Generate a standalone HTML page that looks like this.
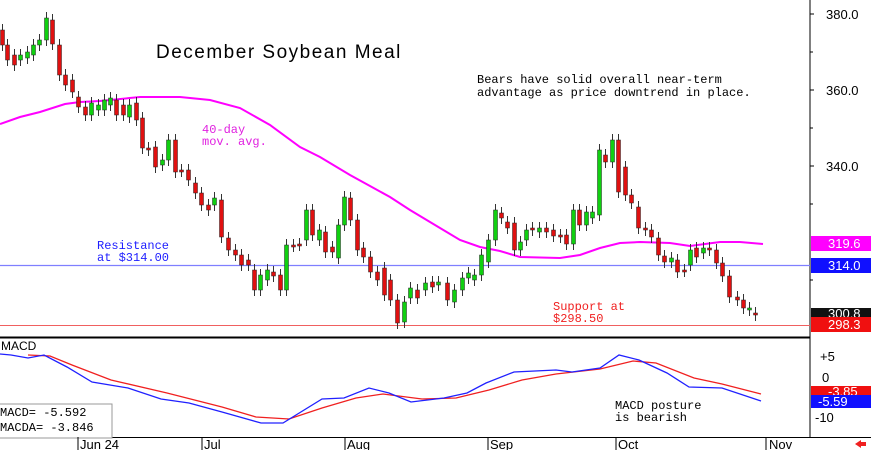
<!DOCTYPE html>
<html><head><meta charset="utf-8"><style>
html,body{margin:0;padding:0;background:#fff;}
svg{display:block;font-family:"Liberation Mono",monospace;}
</style></head><body>
<svg id="s" width="871" height="450" viewBox="0 0 871 450" xmlns="http://www.w3.org/2000/svg">
<rect width="871" height="450" fill="#fff"/>
<!-- panels -->
<line x1="810" y1="0" x2="810" y2="437" stroke="#000" stroke-width="1"/>
<line x1="0" y1="337.5" x2="810" y2="337.5" stroke="#000" stroke-width="2"/>
<line x1="0" y1="437.5" x2="871" y2="437.5" stroke="#000" stroke-width="1"/>
<!-- support/resistance -->
<line x1="0" y1="265.5" x2="810" y2="265.5" stroke="#7f7fff" stroke-width="1.3"/>
<line x1="0" y1="325.5" x2="810" y2="325.5" stroke="#f06060" stroke-width="1"/>
<!-- MA -->
<polyline fill="none" stroke="#f0f" stroke-width="2" points="0,124 20,117 40,112 65,104 80,102 100,101 140,97 180,97 210,100 240,108 270,125 300,147 320,157 350,175 370,186 390,197 410,210 440,228 460,240 480,247 500,251 520,257 560,258 580,255 600,248 620,243 640,242 670,243 690,246 720,242 740,242 763,244"/>
<g id="candles"></g>
<!-- texts -->
<text x="156" y="58" font-size="19" fill="#000" font-family="Liberation Sans, sans-serif" letter-spacing="1.5">December Soybean Meal</text>
<text x="477" y="83" font-size="12" fill="#000">Bears have solid overall near-term</text>
<text x="477" y="96" font-size="12" fill="#000">advantage as price downtrend in place.</text>
<text x="202" y="133" font-size="12" fill="#e020e0">40-day</text>
<text x="202" y="145" font-size="12" fill="#e020e0">mov. avg.</text>
<text x="97" y="249" font-size="12" fill="#2020ff">Resistance</text>
<text x="97" y="261" font-size="12" fill="#2020ff">at $314.00</text>
<text x="553" y="310" font-size="12" fill="#f02020">Support at</text>
<text x="553" y="322" font-size="12" fill="#f02020">$298.50</text>
<!-- price axis -->
<g font-size="13" fill="#000" font-family="Liberation Sans, sans-serif">
<text x="826" y="19">380.0</text>
<text x="826" y="95">360.0</text>
<text x="826" y="171">340.0</text>
</g>
<g stroke="#000">
<line x1="810" y1="14" x2="814" y2="14"/><line x1="810" y1="90" x2="814" y2="90"/><line x1="810" y1="166" x2="814" y2="166"/>
<line x1="810" y1="52" x2="813" y2="52"/><line x1="810" y1="128" x2="813" y2="128"/><line x1="810" y1="204" x2="813" y2="204"/><line x1="810" y1="280" x2="813" y2="280"/>
</g>
<rect x="811" y="236" width="60" height="15" fill="#f0f"/>
<text x="828" y="248" font-size="13" fill="#fff" font-family="Liberation Sans, sans-serif">319.6</text>
<rect x="811" y="258" width="60" height="15" fill="#1010ff"/>
<text x="828" y="270" font-size="13" fill="#fff" font-family="Liberation Sans, sans-serif">314.0</text>
<rect x="811" y="308" width="60" height="10" fill="#111"/>
<text x="828" y="318" font-size="13" fill="#fff" font-family="Liberation Sans, sans-serif">300.8</text>
<rect x="811" y="317" width="60" height="15" fill="#f01010"/>
<text x="828" y="329" font-size="13" fill="#fff" font-family="Liberation Sans, sans-serif">298.3</text>
<!-- MACD -->
<text x="1" y="350" font-size="12" fill="#000" font-family="Liberation Sans, sans-serif">MACD</text>
<polyline fill="none" stroke="#f02020" stroke-width="1.3" points="28,355 50,356 72,365 111,380 167,393 222,407 256,417 289,419 322,408 356,398 383,394 422,399 456,398 489,390 522,380 556,374 600,369 633,361 656,363 694,378 722,384 761,394"/>
<polyline fill="none" stroke="#2020ff" stroke-width="1.3" points="0,354 11,355 28,358 44,355 67,367 92,382 128,388 161,399 189,403 222,412 261,423 283,423 322,399 344,398 369,388 389,393 411,402 444,398 467,393 486,383 514,372 556,370 572,372 600,368 619,355 639,360 667,373 689,387 722,388 761,401"/>
<text x="615" y="409" font-size="12" fill="#000">MACD posture</text>
<text x="615" y="421" font-size="12" fill="#000">is bearish</text>
<rect x="-1" y="404" width="113" height="34" fill="#fff" stroke="#999"/>
<text x="0" y="416" font-size="12" fill="#000">MACD=  -5.592</text>
<text x="0" y="431" font-size="12" fill="#000">MACDA= -3.846</text>
<g font-size="13" fill="#000" font-family="Liberation Sans, sans-serif">
<text x="820" y="361">+5</text>
<text x="822" y="382">0</text>
<text x="815" y="422">-10</text>
</g>
<rect x="811" y="386" width="60" height="10" fill="#f01010"/>
<text x="828" y="396" font-size="13" fill="#fff" font-family="Liberation Sans, sans-serif">-3.85</text>
<rect x="811" y="395" width="60" height="13" fill="#1010ff"/>
<text x="818" y="406" font-size="13" fill="#fff" font-family="Liberation Sans, sans-serif">-5.59</text>
<!-- date axis -->
<g stroke="#000"><line x1="78" y1="437" x2="78" y2="450"/><line x1="202" y1="437" x2="202" y2="450"/><line x1="345" y1="437" x2="345" y2="450"/><line x1="488" y1="437" x2="488" y2="450"/><line x1="616" y1="437" x2="616" y2="450"/><line x1="766" y1="437" x2="766" y2="450"/></g>
<g font-size="13" fill="#000" font-family="Liberation Sans, sans-serif">
<text x="80" y="449">Jun 24</text><text x="204" y="449">Jul</text><text x="347" y="449">Aug</text><text x="490" y="449">Sep</text><text x="618" y="449">Oct</text><text x="769" y="449">Nov</text>
</g>
<polygon points="855,444 861,440 861,448" fill="#f02020"/><rect x="861" y="442" width="5" height="4" fill="#f02020"/>
</svg>
<script>
var d=[[2,30,45],[7,45,60],[14,55,65],[20,60,55],[27,58,52],[33,55,45],[39,45,40],[46,40,18],[52,20,44],[59,45,75],[65,75,85],[72,80,92],[78,97,107],[85,107,115],[91,115,103],[98,110,105],[104,110,100],[110,105,98],[116,100,115],[123,105,115],[129,117,105],[136,103,120],[142,118,148],[148,148,150],[155,147,167],[162,165,160],[168,160,140],[175,140,172],[181,170,171],[188,170,180],[195,183,193],[201,193,205],[208,205,210],[214,205,198],[221,200,237],[228,238,250],[235,250,255],[241,255,265],[248,260,265],[254,270,290],[260,290,275],[267,280,270],[273,272,276],[280,275,290],[286,290,245],[293,245,246],[299,244,245],[306,240,210],[312,210,235],[319,240,230],[325,232,252],[332,247,252],[338,258,225],[344,225,197],[350,198,220],[357,220,250],[363,248,257],[370,257,272],[377,272,280],[384,268,295],[390,280,300],[397,300,323],[404,322,302],[410,298,288],[417,290,298],[425,290,283],[432,282,287],[438,285,282],[447,283,300],[454,302,290],[462,290,278],[468,278,273],[474,280,275],[481,275,255],[488,262,240],[495,240,210],[501,213,218],[507,222,228],[514,223,250],[520,250,242],[526,240,230],[532,228,230],[539,232,228],[546,228,232],[553,230,236],[560,235,237],[566,235,244],[573,244,210],[579,210,225],[586,225,212],[592,218,212],[599,215,150],[605,155,162],[612,162,140],[618,140,192],[625,167,195],[631,195,203],[638,207,228],[645,228,230],[651,230,237],[658,238,255],[664,256,262],[671,262,258],[677,260,272],[684,270,271],[690,265,250],[696,248,257],[703,253,248],[709,248,250],[716,250,263],[722,263,276],[729,276,297],[737,297,300],[743,300,308],[749,310,308],[755,313,315]];
var h='';d.forEach(function(c){var x=c[0],o=c[1],cl=c[2],t=Math.min(o,cl),b=Math.max(o,cl);var up=cl<o;var col=up?'#10d010':'#e01010';
h+='<line x1="'+(x+0.5)+'" y1="'+(t-6)+'" x2="'+(x+0.5)+'" y2="'+(b+6)+'" stroke="#333" stroke-width="1"/>';
h+='<rect x="'+(x-1.5)+'" y="'+t+'" width="4" height="'+Math.max(2,b-t)+'" fill="'+col+'" stroke="#222" stroke-width="0.5"/>';});
document.getElementById('candles').innerHTML=h;
</script>
</body></html>
